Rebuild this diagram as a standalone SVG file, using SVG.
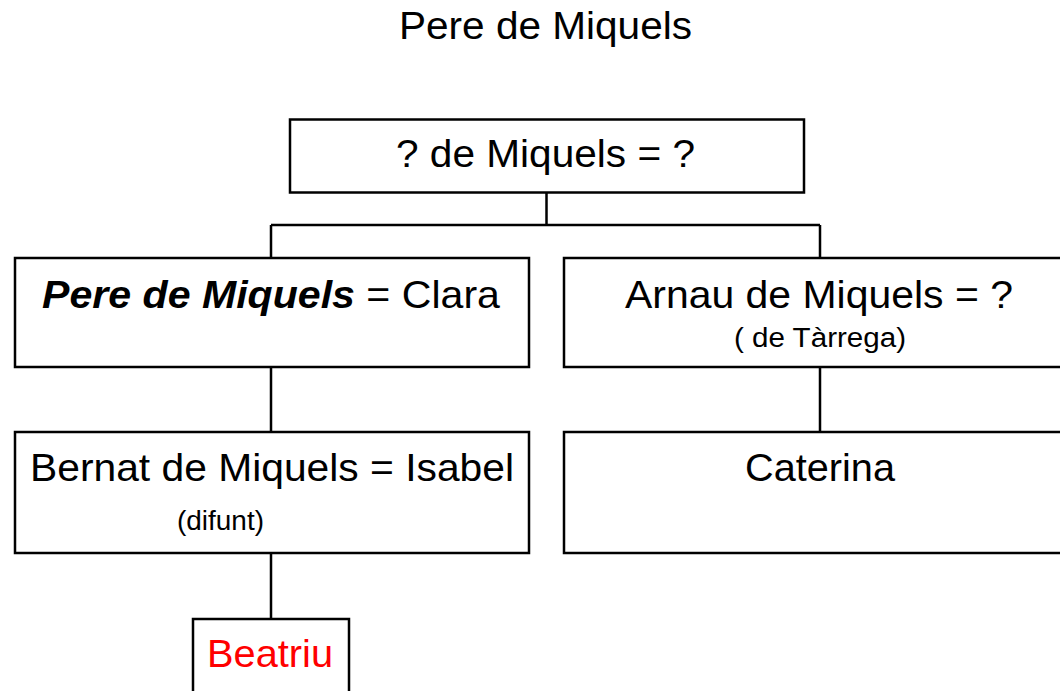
<svg xmlns="http://www.w3.org/2000/svg" width="1060" height="691" viewBox="0 0 1060 691">
<style>
.box{fill:#fff;stroke:#000;stroke-width:2.5}
.con{fill:none;stroke:#000;stroke-width:2.5}
text{font-family:"Liberation Sans",Arial,sans-serif;fill:#000}
.big{font-size:39px}
.small{font-size:27px}
</style>
<rect width="1060" height="691" fill="#fff"/>
<text id="title" x="399" y="39" style="font-size:39px" textLength="293" lengthAdjust="spacingAndGlyphs">Pere de Miquels</text>
<g id="connectors">
<path class="con" d="M546.5 193 V225 M271 225 H820 M271 225 V258 M820 225 V258 M271 367 V432 M820 367 V432 M271 553 V619"/>
</g>
<g id="n_top">
<rect class="box" x="290" y="119.5" width="514" height="73"/>
<text class="big" x="396" y="167" textLength="299" lengthAdjust="spacingAndGlyphs">? de Miquels = ?</text>
</g>
<g id="n_pere">
<rect class="box" x="15" y="258" width="514" height="109"/>
<text class="big" x="42" y="308" textLength="458" lengthAdjust="spacingAndGlyphs"><tspan font-weight="bold" font-style="italic">Pere de Miquels</tspan> = Clara</text>
</g>
<g id="n_arnau">
<rect class="box" x="564" y="258" width="520" height="109"/>
<text class="big" x="625" y="308" textLength="388" lengthAdjust="spacingAndGlyphs">Arnau de Miquels = ?</text>
<text class="small" x="734" y="347" textLength="172" lengthAdjust="spacingAndGlyphs">( de Tàrrega)</text>
</g>
<g id="n_bernat">
<rect class="box" x="15" y="432" width="514" height="121"/>
<text class="big" x="30" y="481" textLength="484" lengthAdjust="spacingAndGlyphs">Bernat de Miquels = Isabel</text>
<text class="small" x="177" y="530" textLength="87" lengthAdjust="spacingAndGlyphs">(difunt)</text>
</g>
<g id="n_caterina">
<rect class="box" x="564" y="432" width="520" height="121"/>
<text class="big" x="745" y="481" textLength="150" lengthAdjust="spacingAndGlyphs">Caterina</text>
</g>
<g id="n_beatriu">
<rect class="box" x="193" y="619" width="156" height="100"/>
<text class="big" x="207" y="667" textLength="126" lengthAdjust="spacingAndGlyphs" style="fill:#ff0000">Beatriu</text>
</g>
</svg>
